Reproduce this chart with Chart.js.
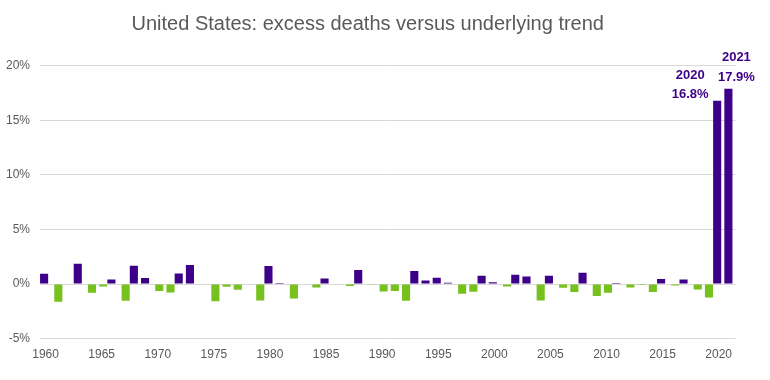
<!DOCTYPE html>
<html>
<head>
<meta charset="utf-8">
<script src="https://cdn.jsdelivr.net/npm/chart.js@4/dist/chart.umd.min.js"></script>
<style>
  html, body { margin: 0; padding: 0; background: #ffffff; }
  #wrap { width: 770px; height: 380px; }
</style>
</head>
<body>
<div id="wrap"><canvas id="c" width="770" height="380"></canvas></div>
<script>
// ---- data ----
const years = [];
for (let y = 1960; y <= 2021; y++) years.push(String(y));

const excessPct = [
  0.95, -1.62, 0, 1.86, -0.79, -0.21, 0.43, -1.53, 1.68, 0.55,   // 1960-1969
  -0.64, -0.76, 0.98, 1.74, 0, -1.56, -0.24, -0.52, 0, -1.50,     // 1970-1979
  1.65, 0.09, -1.31, 0, -0.31, 0.52, 0, -0.18, 1.28, -0.05,       // 1980-1989
  -0.67, -0.64, -1.53, 1.19, 0.34, 0.58, 0.12, -0.89, -0.70, 0.76,// 1990-1999
  0.18, -0.21, 0.85, 0.70, -1.50, 0.76, -0.34, -0.73, 1.04, -1.10,// 2000-2009
  -0.79, 0.09, -0.31, -0.08, -0.73, 0.46, -0.12, 0.43, -0.49, -1.22, // 2010-2019
  16.8, 17.9                                                       // 2020-2021
];

const yTicks = [-5, 0, 5, 10, 15, 20];
const labelledYears = ['2020', '2021'];
const titleText = 'United States: excess deaths versus underlying trend';

// ---- build datasets ----
const aboveTrend = excessPct.map(v => (v > 0 ? v : null));
const belowTrend = excessPct.map(v => (v < 0 ? v : null));

const PURPLE = '#3d0089';
const GREEN = '#77c11f';
const GREY = '#595959';

const labelOffsets = {
  '2020': { dx: -27, dy1: -25.5, dy2: -6.5 },
  '2021': { dx: 8, dy1: -31, dy2: -11.5 }
};

const barLabelPlugin = {
  id: 'barLabels',
  afterDatasetsDraw(chart) {
    const ctx = chart.ctx;
    const meta = chart.getDatasetMeta(0);
    ctx.save();
    ctx.fillStyle = PURPLE;
    ctx.font = 'bold 13px "Liberation Sans", Arial, sans-serif';
    ctx.textAlign = 'center';
    ctx.textBaseline = 'middle';
    labelledYears.forEach(yr => {
      const i = years.indexOf(yr);
      const el = meta.data[i];
      if (!el) return;
      const o = labelOffsets[yr];
      ctx.fillText(yr, el.x + o.dx, el.y + o.dy1);
      ctx.fillText(excessPct[i].toFixed(1) + '%', el.x + o.dx, el.y + o.dy2);
    });
    ctx.restore();
  }
};

new Chart(document.getElementById('c'), {
  type: 'bar',
  data: {
    labels: years,
    datasets: [
      { label: 'Above trend', data: aboveTrend, backgroundColor: PURPLE, borderWidth: 0 },
      { label: 'Below trend', data: belowTrend, backgroundColor: GREEN, borderWidth: 0 }
    ]
  },
  options: {
    responsive: false,
    animation: false,
    devicePixelRatio: 1,
    categoryPercentage: 0.535,
    barPercentage: 2.7,
    layout: { padding: { left: 0, right: 34.5, top: 0, bottom: 0 } },
    plugins: {
      legend: { display: false },
      tooltip: { enabled: false },
      title: {
        display: true,
        text: titleText,
        color: GREY,
        font: { family: '"Liberation Sans", Arial, sans-serif', size: 20, weight: 'normal' },
        padding: { top: 12, bottom: 29.7 }
      }
    },
    scales: {
      x: {
        grid: { display: false, drawTicks: false },
        border: { display: false },
        ticks: {
          autoSkip: false,
          maxRotation: 0,
          padding: 9,
          color: GREY,
          font: { family: '"Liberation Sans", Arial, sans-serif', size: 12 },
          callback: function (val, idx) {
            const lab = this.getLabelForValue(val);
            return Number(lab) % 5 === 0 ? lab : '';
          }
        },
        afterFit(scale) { scale.height = 41.3; }
      },
      y: {
        min: -5,
        max: 20,
        afterBuildTicks(scale) { scale.ticks = yTicks.map(v => ({ value: v })); },
        grid: { color: '#d9d9d9', drawTicks: false, lineWidth: 1 },
        border: { display: false },
        ticks: {
          padding: 10,
          color: GREY,
          font: { family: '"Liberation Sans", Arial, sans-serif', size: 12 },
          callback: v => v + '%'
        },
        afterFit(scale) { scale.width = 40; }
      }
    }
  },
  plugins: [barLabelPlugin]
});
</script>
</body>
</html>
